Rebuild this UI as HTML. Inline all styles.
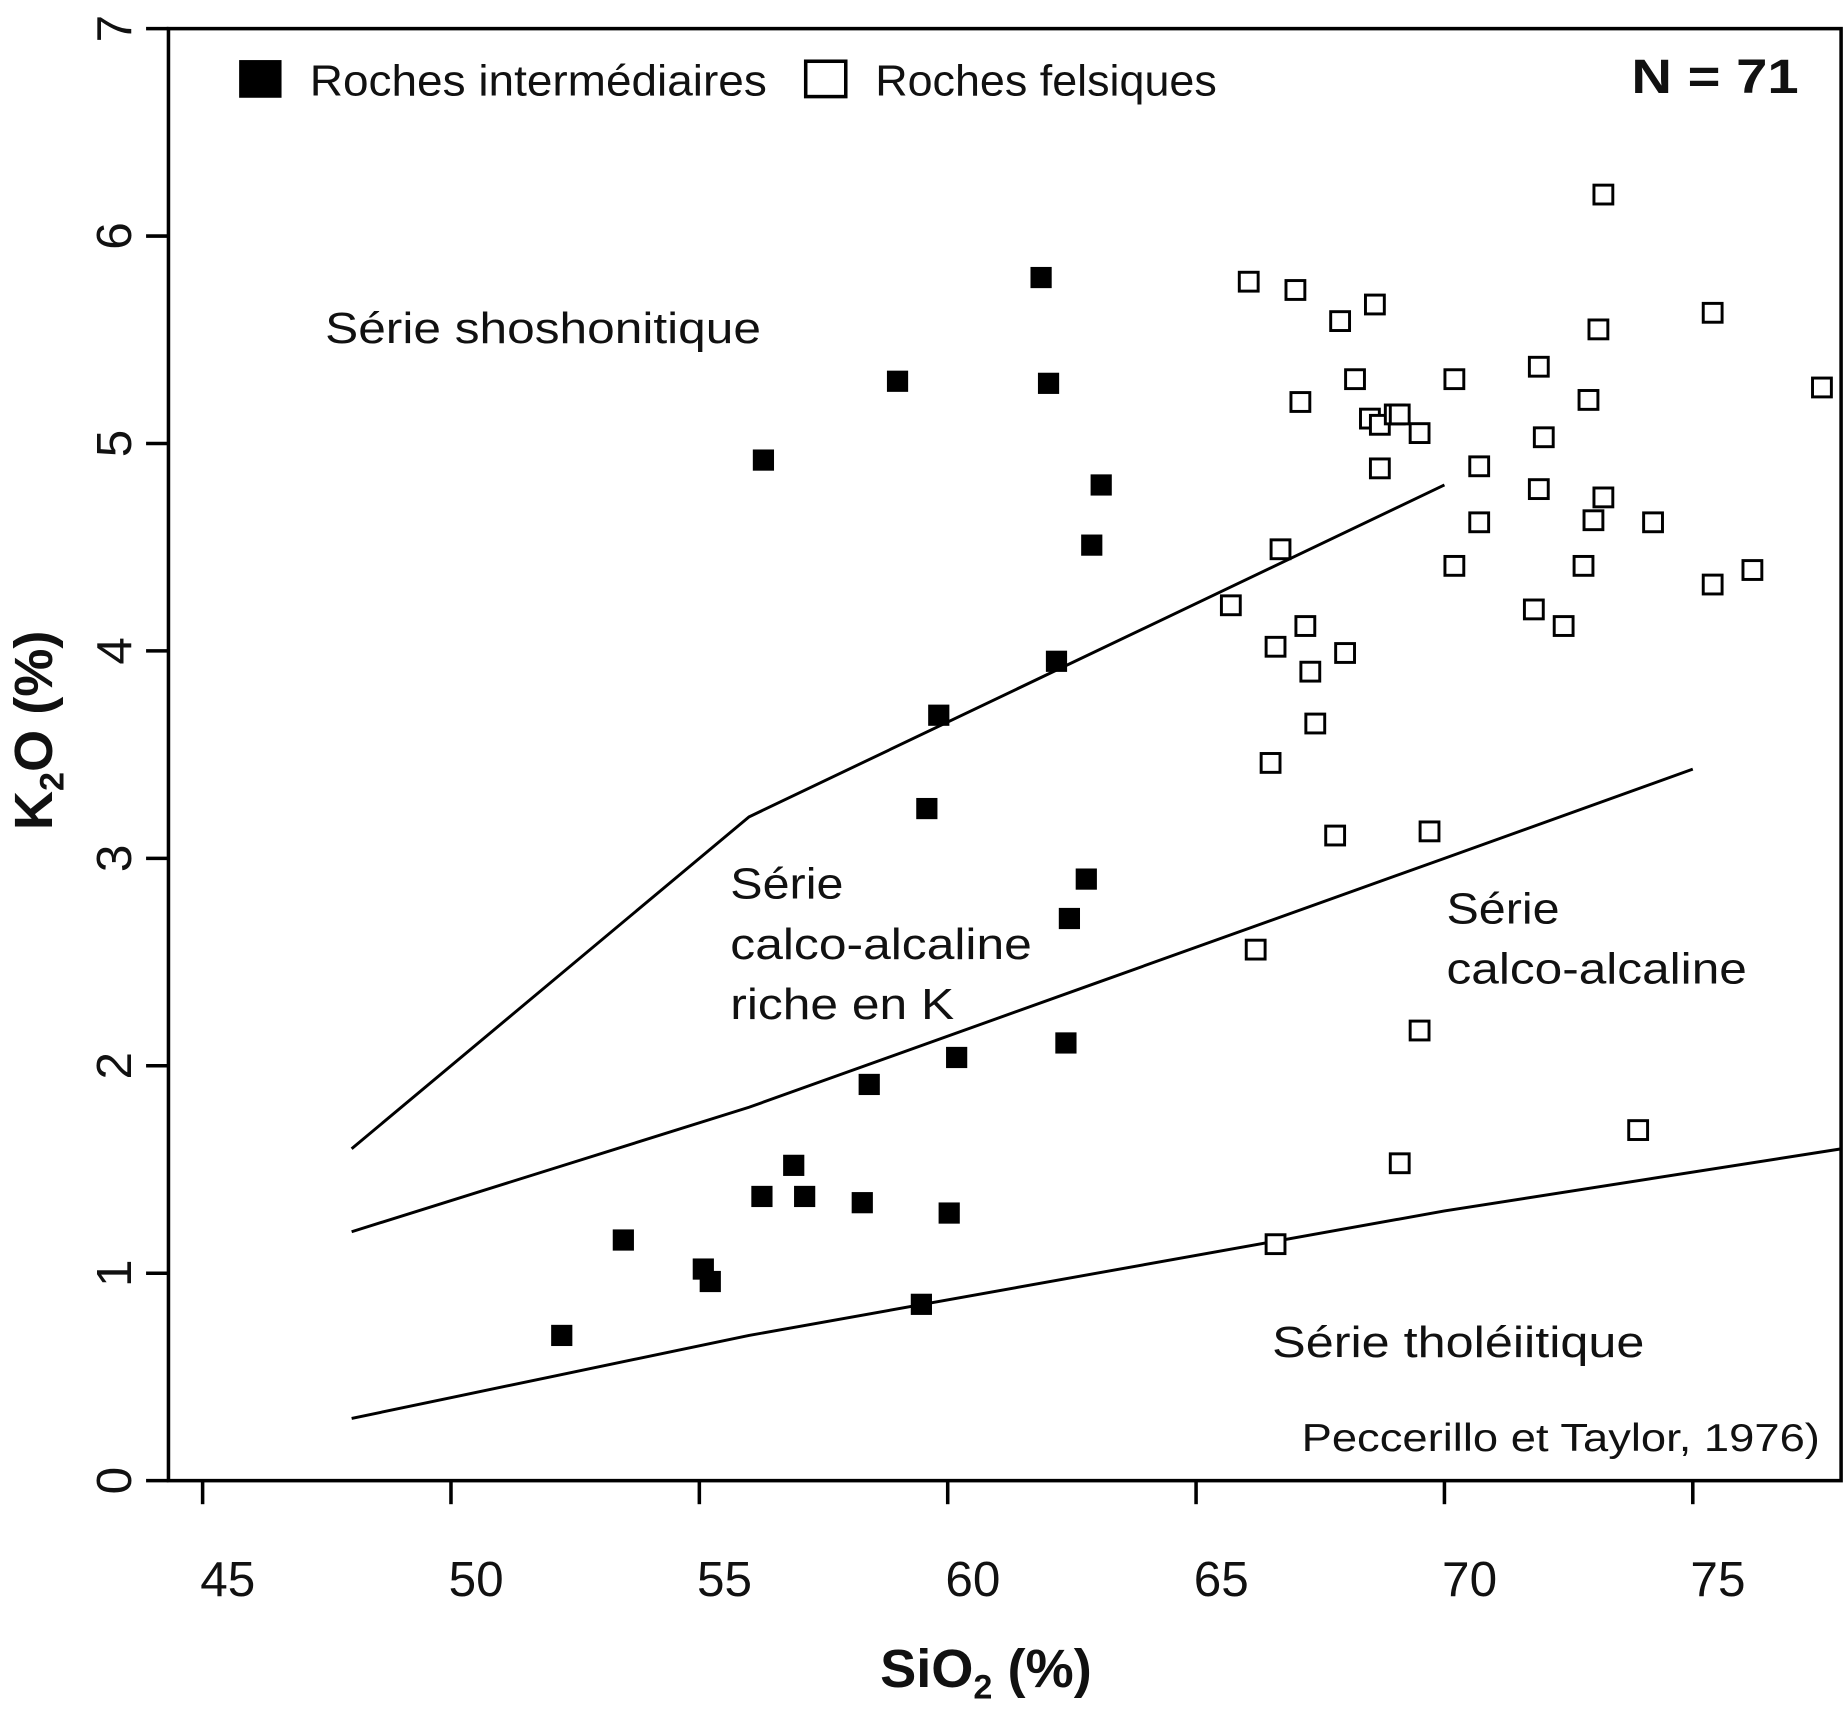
<!DOCTYPE html>
<html><head><meta charset="utf-8"><style>
html,body{margin:0;padding:0;background:#fff}
svg{display:block}
text{font-family:"Liberation Sans",Arial,sans-serif;fill:#111}
</style></head><body>
<svg id="chart" width="1847" height="1728" viewBox="0 0 1568 1467" xmlns="http://www.w3.org/2000/svg">
<g id="axes"></g>
<g id="lines"></g>
<g id="marks"></g>
<g>
<rect x="203" y="51" width="36" height="32" fill="#000"/>
<text x="263" y="81" font-size="37" textLength="388" lengthAdjust="spacingAndGlyphs">Roches intermédiaires</text>
<rect x="684" y="52" width="34" height="30" fill="#fff" stroke="#000" stroke-width="3"/>
<text x="743" y="81" font-size="37" textLength="290" lengthAdjust="spacingAndGlyphs">Roches felsiques</text>
<text x="1385" y="79" font-size="41" font-weight="bold" textLength="142" lengthAdjust="spacingAndGlyphs">N = 71</text>
</g>
<g font-size="37">
<text x="276" y="291" textLength="370" lengthAdjust="spacingAndGlyphs">Série shoshonitique</text>
<text x="620" y="763" textLength="96" lengthAdjust="spacingAndGlyphs">Série</text>
<text x="620" y="814" textLength="256" lengthAdjust="spacingAndGlyphs">calco-alcaline</text>
<text x="620" y="865" textLength="190" lengthAdjust="spacingAndGlyphs">riche en K</text>
<text x="1228" y="784" textLength="96" lengthAdjust="spacingAndGlyphs">Série</text>
<text x="1228" y="835" textLength="255" lengthAdjust="spacingAndGlyphs">calco-alcaline</text>
<text x="1080" y="1152" textLength="316" lengthAdjust="spacingAndGlyphs">Série tholéiitique</text>
<text x="1105" y="1232" font-size="33" textLength="440" lengthAdjust="spacingAndGlyphs">Peccerillo et Taylor, 1976)</text>
</g>
<text x="837" y="1432" font-size="46" font-weight="bold" text-anchor="middle">SiO<tspan font-size="29" dy="10">2</tspan><tspan dy="-10"> (%)</tspan></text>
<text transform="translate(44,620) rotate(-90)" font-size="46" font-weight="bold" text-anchor="middle">K<tspan font-size="29" dy="10">2</tspan><tspan dy="-10">O (%)</tspan></text>
</svg>
<script>
const xTicks=[45,50,55,60,65,70,75];
const yTicks=[0,1,2,3,4,5,6,7];
const shoshX=[48,56,70];
const shoshY=[1.6,3.2,4.8];
const highKX=[48,52,56,63,70,75];
const highKY=[1.2,1.5,1.8,2.4,3.0,3.43];
const tholX=[48,52,56,63,70,78];
const tholY=[0.3,0.5,0.7,1.0,1.3,1.6];
const interSiO2=[52.23,53.47,55.08,55.22,56.26,56.90,57.12,58.28,60.03,59.47,58.42,60.18,62.38,62.45,62.79,59.58,59.82,62.19,62.90,63.09,56.29,58.99,62.03,61.88];
const interK2O=[0.70,1.16,1.02,0.96,1.37,1.52,1.37,1.34,1.29,0.85,1.91,2.04,2.11,2.71,2.90,3.24,3.69,3.95,4.51,4.80,4.92,5.30,5.29,5.80];
const felsSiO2=[66.06,67.0,67.9,68.6,73.2,75.4,73.1,71.9,68.2,67.1,70.2,72.9,68.5,68.7,69.0,69.1,69.5,72.0,68.7,70.7,77.6,71.9,73.2,73.0,70.7,74.2,66.7,70.2,72.8,76.2,75.4,65.7,71.8,67.2,72.4,66.6,68.0,67.3,67.4,66.5,67.8,69.7,66.2,69.5,73.9,69.1,66.6];
const felsK2O=[5.78,5.74,5.59,5.67,6.20,5.63,5.55,5.37,5.31,5.20,5.31,5.21,5.12,5.09,5.14,5.14,5.05,5.03,4.88,4.89,5.27,4.78,4.74,4.63,4.62,4.62,4.49,4.41,4.41,4.39,4.32,4.22,4.20,4.12,4.12,4.02,3.99,3.90,3.65,3.46,3.11,3.13,2.56,2.17,1.69,1.53,1.14];

const NS="http://www.w3.org/2000/svg";
const X=v=>172+(v-45)*42.17;
const Y=v=>1257-v*176.1;
function mk(tag,attrs,parent){const e=document.createElementNS(NS,tag);for(const k in attrs)e.setAttribute(k,attrs[k]);parent.appendChild(e);return e;}
const axes=document.getElementById('axes');
let frame=mk('rect',{x:143,y:Y(7),width:1563-143,height:Y(0)-Y(7),fill:'none',stroke:'#000','stroke-width':3},axes);


xTicks.forEach(t=>{
  let l=mk('line',{x1:X(t),x2:X(t),y1:Y(0),y2:Y(0)+20,stroke:'#000','stroke-width':3},axes);
  
  
  let tx=mk('text',{x:X(t)-2,y:1355,'font-size':42},axes);
  tx.textContent=t;
  
  
});
yTicks.forEach(t=>{
  let l=mk('line',{x1:124,x2:143,y1:Y(t),y2:Y(t),stroke:'#000','stroke-width':3},axes);
  
  
  let tx=mk('text',{transform:`translate(111,${Y(t)}) rotate(-90)`,'font-size':42,'text-anchor':'middle'},axes);
  tx.textContent=t;
  
  
});
const lines=document.getElementById('lines');
[[shoshX,shoshY,'shoshonitic-boundary'],[highKX,highKY,'high-k-boundary'],[tholX,tholY,'tholeiitic-boundary']].forEach(([xs,ys,n])=>{
  let p=mk('polyline',{points:xs.map((v,i)=>X(v)+','+Y(ys[i])).join(' '),fill:'none',stroke:'#000','stroke-width':2.5},lines);
  
  
});
const marks=document.getElementById('marks');
interSiO2.forEach((v,i)=>{
  let r=mk('rect',{x:X(v)-9,y:Y(interK2O[i])-9,width:18,height:18,fill:'#000'},marks);
  
  
});
felsSiO2.forEach((v,i)=>{
  let r=mk('rect',{x:X(v)-8,y:Y(felsK2O[i])-8,width:16,height:16,fill:'#fff',stroke:'#000','stroke-width':2.5},marks);
  
  
});
</script>
</body></html>
